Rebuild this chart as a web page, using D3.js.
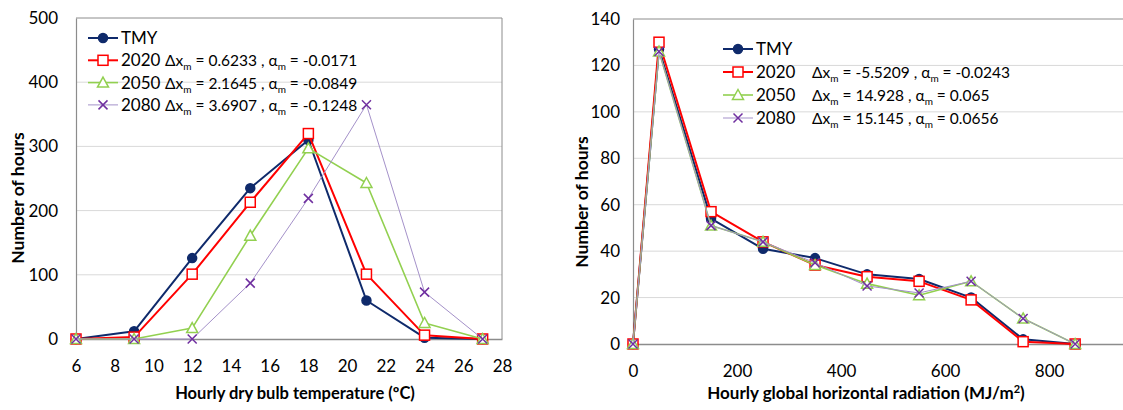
<!DOCTYPE html>
<html>
<head>
<meta charset="utf-8">
<script src="https://cdn.jsdelivr.net/npm/d3@7"></script>
<style>
body { margin: 0; background: #fff; }
text { font-family: Lato, "Open Sans", sans-serif; fill: #000; }
</style>
</head>
<body>
<script>
// left panel: dry bulb temperature
var tempBins = [6, 9, 12, 15, 18, 21, 24, 27];
var tempTMY  = [0, 12, 126, 235, 310, 60, 2, 0];
var temp2020 = [0, 3, 101, 213, 320, 101, 6, 0];
var temp2050 = [0, 0, 17, 161, 297, 243, 25, 0];
var temp2080 = [0, 0, 0, 87, 219, 365, 73, 0];
var tempXTicks = [6, 8, 10, 12, 14, 16, 18, 20, 22, 24, 26, 28];
var tempYTicks = [0, 100, 200, 300, 400, 500];

// right panel: global horizontal radiation
var radBins = [0, 50, 150, 250, 350, 450, 550, 650, 750, 850];
var radTMY  = [0, 127, 54, 41, 37, 30, 28, 20, 2, 0];
var rad2020 = [0, 130, 57, 44, 34, 29, 27, 19, 1, 0];
var rad2050 = [0, 126, 51, 44, 34, 26, 21, 27, 11, 0];
var rad2080 = [0, 126, 51, 44, 35, 25, 22, 27, 11, 0];
var radXTicks = [0, 200, 400, 600, 800];
var radYTicks = [0, 20, 40, 60, 80, 100, 120, 140];

var seriesNames = ["TMY", "2020", "2050", "2080"];
var tempNotes = [null, ["0.6233", "-0.0171"], ["2.1645", "-0.0849"], ["3.6907", "-0.1248"]];
var radNotes = [null, ["-5.5209", "-0.0243"], ["14.928", "0.065"], ["15.145", "0.0656"]];

var styles = [
    {line: "#0f2a6b", width: 2, marker: "circle", stroke: "#0f2a6b", fill: "#0f2a6b"},
    {line: "#ff0000", width: 2, marker: "square", stroke: "#ff0000", fill: "#fff"},
    {line: "#92d050", width: 1.6, marker: "triangle", stroke: "#92d050", fill: "#fff"},
    {line: "#a491c9", width: 1, marker: "cross", stroke: "#7030a0", fill: "none"}
];

var svg = d3.select("body")
    .append("svg")
    .attr("width", 1123)
    .attr("height", 410)
    .style("display", "block");

function drawMarker(g, type, s) {
    var m;
    if (type == "circle") {
        m = g.append("circle").attr("r", 4.5);
    } else if (type == "square") {
        m = g.append("rect").attr("x", -5).attr("y", -5).attr("width", 10).attr("height", 10);
    } else if (type == "triangle") {
        m = g.append("path").attr("d", "M0,-5.5L5.5,4.5L-5.5,4.5Z");
    } else {
        m = g.append("path").attr("d", "M-4.5,-4.5L4.5,4.5M-4.5,4.5L4.5,-4.5");
    }
    m.attr("fill", s.fill).attr("stroke", s.stroke).attr("stroke-width", 1.5);
}

function panel(opt) {
    var x = d3.scaleLinear().domain(opt.xDomain).range([opt.left, opt.right]);
    var y = d3.scaleLinear().domain(opt.yDomain).range([opt.bottom, opt.top]);
    var g = svg.append("g");

    // gridlines
    g.selectAll(".grid")
        .data(opt.yTicks.filter(function(d) { return d > opt.yDomain[0] && d < opt.yDomain[1]; }))
        .enter().append("line")
        .attr("x1", opt.left).attr("x2", opt.right)
        .attr("y1", function(d) { return y(d); })
        .attr("y2", function(d) { return y(d); })
        .attr("stroke", "#d9d9d9").attr("stroke-width", 1);

    // frame
    g.append("line").attr("x1", opt.left).attr("x2", opt.right)
        .attr("y1", opt.top).attr("y2", opt.top)
        .attr("stroke", "#8c8c8c").attr("stroke-width", 1);
    if (opt.rightBorder) {
        g.append("line").attr("x1", opt.right).attr("x2", opt.right)
            .attr("y1", opt.top).attr("y2", opt.bottom)
            .attr("stroke", "#8c8c8c").attr("stroke-width", 1);
    }

    var yAxis = d3.axisLeft(y).tickValues(opt.yTicks).tickSize(0).tickPadding(opt.yPad);
    var ya = g.append("g").attr("transform", "translate(" + opt.left + ",0)").call(yAxis);
    ya.select(".domain").attr("stroke", "#8c8c8c").attr("stroke-width", 1.2);
    ya.selectAll("text").style("font-size", "17px").attr("fill", "#000");

    var xAxis = d3.axisBottom(x).tickValues(opt.xTicks).tickSize(0).tickPadding(21);
    var xa = g.append("g").attr("transform", "translate(0," + opt.bottom + ")").call(xAxis);
    xa.select(".domain").attr("stroke", "#8c8c8c").attr("stroke-width", 1.5);
    xa.selectAll("text").style("font-size", "17px").attr("fill", "#000");

    g.append("text")
        .attr("x", opt.xTitleX).attr("y", 399)
        .attr("text-anchor", "middle")
        .style("font-size", opt.xTitleSize).style("font-weight", "bold")
        .text(opt.xTitle)
        .call(function(t) { if (opt.xTitleSup) t.append("tspan").attr("dy", -6).style("font-size", "11px").text(opt.xTitleSup); })
        .call(function(t) { if (opt.xTitleEnd) t.append("tspan").attr("dy", 6).text(opt.xTitleEnd); });

    g.append("text")
        .attr("transform", "translate(" + opt.yTitleX + "," + opt.yTitleY + ") rotate(-90)")
        .attr("text-anchor", "middle")
        .style("font-size", "17.5px").style("font-weight", "bold")
        .text("Number of hours");

    var line = d3.line()
        .x(function(d, i) { return x(opt.bins[i]); })
        .y(function(d) { return y(d); });

    opt.series.forEach(function(vals, k) {
        var s = styles[k];
        g.append("path").datum(vals)
            .attr("d", line)
            .attr("fill", "none")
            .attr("stroke", s.line)
            .attr("stroke-width", s.width)
            .attr("stroke-linejoin", "round");
        vals.forEach(function(v, i) {
            var mg = g.append("g").attr("transform", "translate(" + x(opt.bins[i]) + "," + y(v) + ")");
            drawMarker(mg, s.marker, s);
        });
    });

    // legend
    seriesNames.forEach(function(name, k) {
        var s = styles[k];
        var ly = opt.legY + k * opt.legStep;
        g.append("line")
            .attr("x1", opt.legX).attr("x2", opt.legX + 30)
            .attr("y1", ly).attr("y2", ly)
            .attr("stroke", s.line).attr("stroke-width", s.width);
        drawMarker(g.append("g").attr("transform", "translate(" + (opt.legX + 15) + "," + ly + ")"), s.marker, s);
        g.append("text")
            .attr("x", opt.legX + 33).attr("y", ly + 6)
            .style("font-size", "17px")
            .text(name);
        var n = opt.notes[k];
        if (n) {
            var t = g.append("text")
                .attr("x", opt.noteX).attr("y", ly + 6)
                .style("font-size", "15.5px");
            t.append("tspan").text("\u0394x");
            t.append("tspan").attr("dy", 4).style("font-size", "10px").text("m");
            t.append("tspan").attr("dy", -4).text(" = " + n[0] + " , \u03b1");
            t.append("tspan").attr("dy", 4).style("font-size", "10px").text("m");
            t.append("tspan").attr("dy", -4).text(" = " + n[1]);
        }
    });
}

panel({
    bins: tempBins,
    series: [tempTMY, temp2020, temp2050, temp2080],
    notes: tempNotes,
    xDomain: [6, 28], yDomain: [0, 500],
    xTicks: tempXTicks, yTicks: tempYTicks,
    left: 76, right: 502, top: 18, bottom: 339,
    rightBorder: true, yPad: 18,
    xTitle: "Hourly dry bulb temperature (\u00baC)", xTitleSize: "16.5px",
    xTitleX: 295, yTitleX: 24, yTitleY: 198,
    legX: 88, legY: 38, legStep: 22.3, noteX: 165
});

panel({
    bins: radBins,
    series: [radTMY, rad2020, rad2050, rad2080],
    notes: radNotes,
    xDomain: [0, 942], yDomain: [0, 140],
    xTicks: radXTicks, yTicks: radYTicks,
    left: 633, right: 1123, top: 19, bottom: 344,
    rightBorder: false, yPad: 13,
    xTitle: "Hourly global horizontal radiation (MJ/m", xTitleSize: "17px",
    xTitleSup: "2", xTitleEnd: ")",
    xTitleX: 866, yTitleX: 588, yTitleY: 202,
    legX: 723, legY: 49, legStep: 23, noteX: 812
});
</script>
</body>
</html>
